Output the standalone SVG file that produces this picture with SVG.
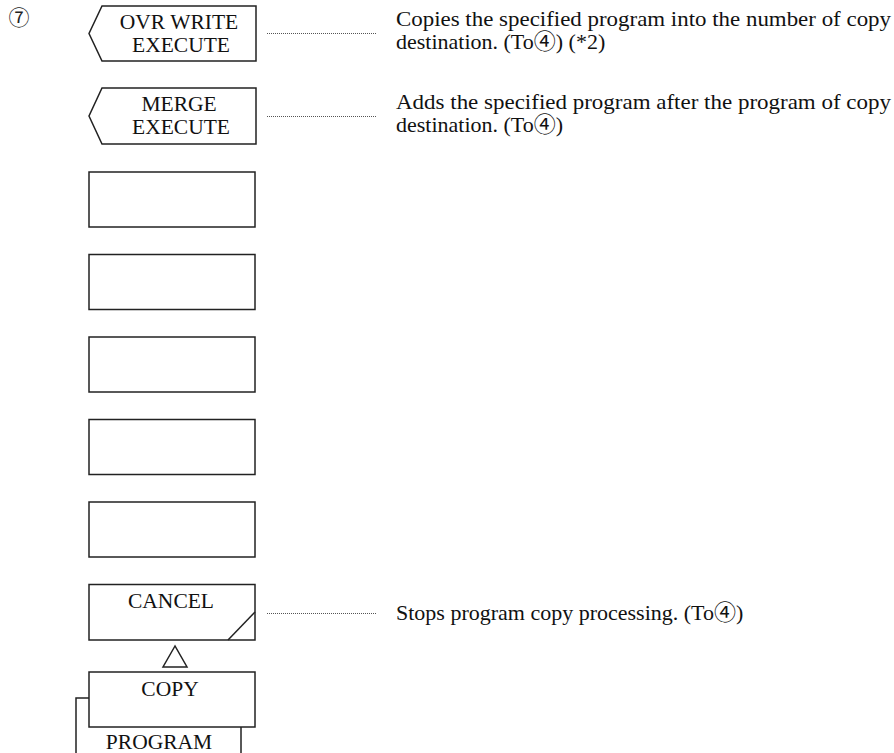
<svg xmlns="http://www.w3.org/2000/svg" width="894" height="753" viewBox="0 0 894 753">
<style>
.box{fill:#fff;stroke:#222;stroke-width:1.5}
.lbl{font-family:"Liberation Serif","Noto Sans CJK JP",serif;font-size:21.5px;fill:#111;text-anchor:middle}
.desc{font-family:"Liberation Serif","Noto Sans CJK JP",serif;font-size:22px;fill:#111}
.dot{stroke:#555;stroke-width:1;stroke-dasharray:1 1;fill:none}
.num{font-family:"Noto Sans CJK JP",sans-serif;font-size:21px;fill:#222;text-anchor:middle}
</style>
<rect width="894" height="753" fill="#fff"/>
<text class="num" x="19" y="25">⑦</text>
<g id="ovr-write">
<polygon class="box" points="102,6 256,6 256,61 102,61 89,33.5"/>
<text class="lbl" x="179" y="29">OVR WRITE</text>
<text class="lbl" x="181" y="52">EXECUTE</text>
</g>
<g id="merge">
<polygon class="box" points="102,88 256,88 256,144 102,144 89,116"/>
<text class="lbl" x="179" y="111">MERGE</text>
<text class="lbl" x="181" y="134">EXECUTE</text>
</g>
<g id="blank1"><rect class="box" x="89" y="172" width="166" height="55"/></g>
<g id="blank2"><rect class="box" x="89" y="254.5" width="166" height="55"/></g>
<g id="blank3"><rect class="box" x="89" y="337" width="166" height="55"/></g>
<g id="blank4"><rect class="box" x="89" y="419.5" width="166" height="55"/></g>
<g id="blank5"><rect class="box" x="89" y="502" width="166" height="55"/></g>
<g id="cancel">
<rect class="box" x="89" y="584.5" width="166" height="55.5"/>
<line x1="228" y1="640" x2="255" y2="612" stroke="#222" stroke-width="1.5"/>
<text class="lbl" x="171" y="608">CANCEL</text>
</g>
<g id="program">
<rect class="box" x="76" y="698" width="165" height="62"/>
<text class="lbl" x="159" y="749">PROGRAM</text>
</g>
<g id="copy">
<rect class="box" x="89" y="672" width="166" height="55"/>
<text class="lbl" x="170" y="696">COPY</text>
</g>
<g id="connectors">
<line class="dot" x1="267" y1="33.5" x2="377" y2="33.5"/>
<line class="dot" x1="267" y1="116.5" x2="377" y2="116.5"/>
<line class="dot" x1="267" y1="613.5" x2="377" y2="613.5"/>
<polygon points="175,646 163,667 187,667" fill="#fff" stroke="#222" stroke-width="1.5"/>
</g>
<g id="descriptions">
<text class="desc" x="396" y="26" textLength="495" lengthAdjust="spacingAndGlyphs">Copies the specified program into the number of copy</text>
<text class="desc" x="396" y="49">destination. (To④) (*2)</text>
<text class="desc" x="396" y="109" textLength="495" lengthAdjust="spacingAndGlyphs">Adds the specified program after the program of copy</text>
<text class="desc" x="396" y="132">destination. (To④)</text>
<text class="desc" x="396" y="620">Stops program copy processing. (To④)</text>
</g>
</svg>
